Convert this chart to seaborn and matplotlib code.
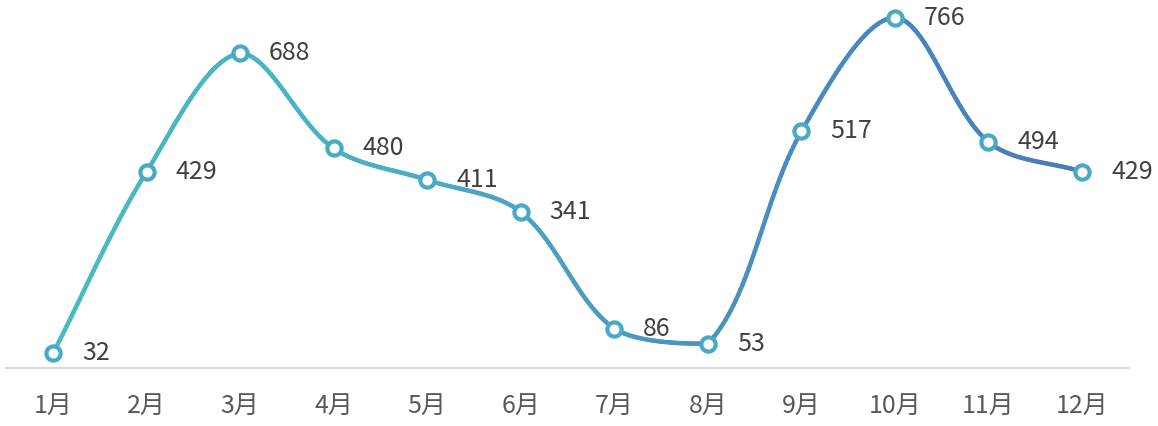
import numpy as np
import pandas as pd
import seaborn as sns
import matplotlib
matplotlib.use("Agg")
import matplotlib.pyplot as plt
from matplotlib.collections import LineCollection
from matplotlib.colors import LinearSegmentedColormap
from matplotlib import transforms

# data
months = ["1月", "2月", "3月", "4月", "5月", "6月", "7月", "8月", "9月", "10月", "11月", "12月"]
values = [32, 429, 688, 480, 411, 341, 86, 53, 517, 766, 494, 429]

sns.set_theme(style="white")
plt.rcParams["font.family"] = ["Noto Sans CJK SC", "DejaVu Sans"]

df = pd.DataFrame({"pos": np.arange(len(months)), "month": months, "value": values})

fig = plt.figure(figsize=(11.58, 4.26), dpi=100)
ax = fig.add_axes([0.0054, 0.1362, 0.9694, 0.8591])
ax.set_xlim(-0.5, 11.5)
ax.set_ylim(0, 800)


def smooth_line(ax, x, y, n=40, f=1 / 3):
    # office-style smoothed line: bezier segments, tangent scaled by the
    # neighbouring segment lengths measured on screen, no overshoot
    P = ax.transData.transform(np.column_stack([x, y]).astype(float))
    m = len(P)
    d = np.linalg.norm(np.diff(P, axis=0), axis=1)
    cin = P.copy()
    cout = P.copy()
    for i in range(m):
        a = P[i - 1] if i > 0 else P[i]
        b = P[i + 1] if i < m - 1 else P[i]
        T = b - a
        dp = d[i - 1] if i > 0 else 0.0
        dn = d[i] if i < m - 1 else 0.0
        tot = dp + dn
        if tot > 0:
            cin[i] = P[i] - T * f * dp / tot
            cout[i] = P[i] + T * f * dn / tot
    out = []
    for i in range(m - 1):
        lo, hi = sorted([P[i, 1], P[i + 1, 1]])
        c1 = cout[i].copy()
        c2 = cin[i + 1].copy()
        c1[1] = np.clip(c1[1], lo, hi)
        c2[1] = np.clip(c2[1], lo, hi)
        t = np.linspace(0, 1, n, endpoint=(i == m - 2))[:, None]
        seg = ((1 - t) ** 3 * P[i] + 3 * t * (1 - t) ** 2 * c1
               + 3 * t ** 2 * (1 - t) * c2 + t ** 3 * P[i + 1])
        out.append(seg)
    return ax.transData.inverted().transform(np.concatenate(out))


curve = smooth_line(ax, df["pos"], df["value"])
sx = curve[:, 0]
pts = curve.reshape(-1, 1, 2)
segs = np.concatenate([pts[:-1], pts[1:]], axis=1)
cmap = LinearSegmentedColormap.from_list("tealblue", ["#4BBAC2", "#4BAEC4", "#4A8FBE", "#4A7BBA"])
lc = LineCollection(segs, cmap=cmap, norm=plt.Normalize(0, 11), linewidths=3.2,
                    capstyle="round", joinstyle="round", zorder=2)
lc.set_array((sx[:-1] + sx[1:]) / 2)
ax.add_collection(lc)

sns.scatterplot(data=df, x="pos", y="value", ax=ax, s=105, color="white",
                edgecolor="#4AAAC5", linewidth=3.0, zorder=3, legend=False)

offset = transforms.offset_copy(ax.transData, fig=fig, x=29, y=0, units="dots")
for p, v in zip(df["pos"], df["value"]):
    ax.text(p, v, str(v), transform=offset, ha="left", va="center",
            fontsize=18, color="#404040")

ax.set_xlim(-0.5, 11.5)
ax.set_ylim(0, 800)
ax.set_xticks(df["pos"])
ax.set_xticklabels(months, fontsize=18, color="#595959")
ax.tick_params(axis="x", length=0, pad=18)
ax.set_yticks([])
ax.set_xlabel("")
ax.set_ylabel("")
for side in ["top", "left", "right"]:
    ax.spines[side].set_visible(False)
ax.spines["bottom"].set_color("#D9D9D9")
ax.spines["bottom"].set_linewidth(1.5)

fig.savefig("out.png", dpi=100)
